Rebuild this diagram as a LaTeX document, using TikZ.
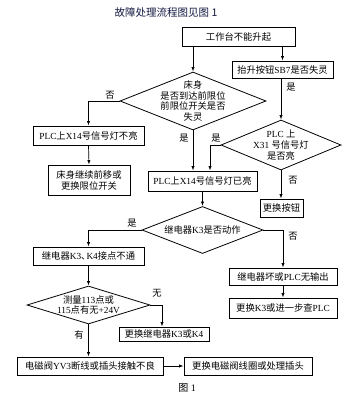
\documentclass[tikz,border=0pt]{standalone}
\usepackage{fontspec}
\setmainfont{Liberation Serif}
\newfontfamily\cjk{Noto Sans CJK SC}
\usetikzlibrary{shapes.geometric,arrows.meta,calc}
\newcommand{\zhtxt}[1]{{\cjk #1}}
\definecolor{titlecol}{rgb}{0.07,0.09,0.25}
\tikzset{
  box/.style={draw, line width=0.8pt, inner sep=0pt, align=center, font=\fontsize{9.3}{11}\selectfont},
  dia/.style={draw, diamond, line width=0.8pt, inner sep=0pt},
  dtext/.style={align=center, font=\fontsize{9.3}{10.8}\selectfont, inner sep=0pt},
  lab/.style={font=\fontsize{9.3}{11}\selectfont, inner sep=0pt},
  arr/.style={line width=0.7pt, -{Latex[length=4.5pt,width=3.2pt]}},
  ln/.style={line width=0.7pt}
}
\begin{document}
\begin{tikzpicture}[x=1pt,y=-1pt]
\useasboundingbox (0,0) rectangle (356,410);
% title
\node[font=\fontsize{10.5}{12}\selectfont\cjk, text=titlecol] (title) at (166,12) {故障处理流程图见图 1};
% boxes
\node[box, minimum width=113pt, minimum height=19pt] (top) at (238.5,36.5) {\zhtxt{工作台不能升起}};
\node[box, minimum width=101pt, minimum height=17pt] (sb7) at (282.5,69.5) {\zhtxt{抬升按钮}SB7\zhtxt{是否失灵}};
\node[box, minimum width=111pt, minimum height=19pt] (x14no) at (88.5,135.5) {PLC\zhtxt{上}X14\zhtxt{号信号灯不亮}};
\node[box, minimum width=82pt, minimum height=30pt] (cont) at (89,180) {\zhtxt{床身继续前移或}\\\zhtxt{更换限位开关}};
\node[box, minimum width=109pt, minimum height=20pt] (x14yes) at (202.5,181) {PLC\zhtxt{上}X14\zhtxt{号信号灯已亮}};
\node[box, minimum width=43pt, minimum height=18pt] (btn) at (281.5,208) {\zhtxt{更换按钮}};
\node[box, minimum width=111pt, minimum height=18pt] (k34) at (88.5,256) {\zhtxt{继电器}K3\zhtxt{、}\kern-4pt K4\zhtxt{接点不通}};
\node[box, minimum width=108pt, minimum height=17pt] (bad) at (283,276.5) {\zhtxt{继电器坏或}PLC\zhtxt{无输出}};
\node[box, minimum width=108pt, minimum height=20pt] (chk) at (283,308) {\zhtxt{更换}K3\zhtxt{或进一步查}PLC};
\node[box, minimum width=90pt, minimum height=14pt] (rk) at (164,334) {\zhtxt{更换继电器}K3\zhtxt{或}K4};
\node[box, minimum width=146pt, minimum height=18pt] (yv3) at (90,366) {\zhtxt{电磁阀}YV3\zhtxt{断线或插头接触不良}};
\node[box, minimum width=128pt, minimum height=18pt] (coil) at (248,366) {\zhtxt{更换电磁阀线圈或处理插头}};
% diamonds
\node[dia, minimum width=146pt, minimum height=58pt] (d1) at (193,101) {};
\node[dtext] (d1t) at (d1) {\zhtxt{床身}\\\zhtxt{是否到达前限位}\\\zhtxt{前限位开关是否}\\\zhtxt{失灵}};
\node[dia, minimum width=120pt, minimum height=50pt] (d2) at (281,145) {};
\node[dtext] (d2t) at (d2) {PLC \zhtxt{上}\\X31 \zhtxt{号信号灯}\\\zhtxt{是否亮}};
\node[dia, minimum width=121pt, minimum height=47pt] (d3) at (202.5,230) {};
\node[dtext] (d3t) at (d3) {\zhtxt{继电器}K3\zhtxt{是否动作}};
\node[dia, minimum width=123pt, minimum height=38pt] (d4) at (88.5,305) {};
\node[dtext] (d4t) at (d4) {\zhtxt{测量}113\zhtxt{点或}\\115\zhtxt{点有无}+24V};
% connectors
\draw[arr] (top.south -| sb7.north) -- (sb7.north);
\draw[arr] (top.south -| d1.north) -- (d1.north);
\draw[arr] (d1.west) -| (x14no.north);
\draw[arr] (x14no.south) -- (cont.north);
\draw[arr] (d1.south) -- (d1.south |- x14yes.north);
\draw[arr] (sb7.south -| d2.north) -- (d2.north);
\coordinate (j2) at ($(x14yes.north)+(7.5,0)$);
\draw[arr] (d2.west) -| (j2);
\draw[arr] (d2.south) -- (d2.south |- btn.north);
\draw[arr] (x14yes.south) -- (d3.north);
\draw[arr] (d3.west) -| (k34.north);
\draw[arr] (d3.east) -| (bad.north);
\draw[arr] (bad.south) -- (chk.north);
\draw[arr] (k34.south) -- (d4.north);
\coordinate (j4) at ($(rk.north)+(-2,0)$);
\draw[arr] (d4.east) -| (j4);
\draw[arr] (d4.south) -- (d4.south |- yv3.north);
\draw[arr] (yv3.east) -- (coil.west);
% labels
\node[lab] (l1) at (110,95) {\zhtxt{否}};
\node[lab] (l2) at (184,138) {\zhtxt{是}};
\node[lab] (l3) at (216,138) {\zhtxt{是}};
\node[lab] (l4) at (291,87) {\zhtxt{是}};
\node[lab] (l5) at (293,180) {\zhtxt{否}};
\node[lab] (l6) at (132,223) {\zhtxt{是}};
\node[lab] (l7) at (293,236) {\zhtxt{否}};
\node[lab] (l8) at (157,293) {\zhtxt{无}};
\node[lab] (l9) at (79,335) {\zhtxt{有}};
\node[font=\fontsize{10}{12}\selectfont] (cap) at (187,388) {\zhtxt{图} 1};
\end{tikzpicture}
\end{document}
